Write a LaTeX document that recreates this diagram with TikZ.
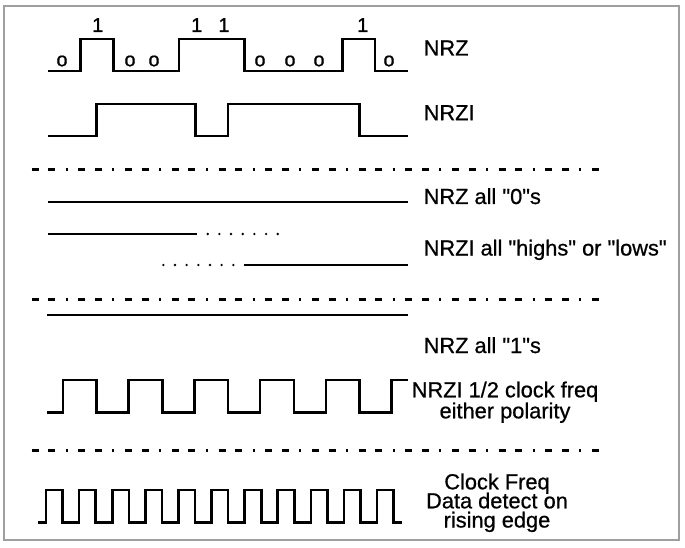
\documentclass[tikz,border=0pt]{standalone}
\usepackage{fontspec}
\setmainfont{Liberation Sans}[Ligatures=TeXOff, FakeBold=0.7]
\begin{document}
\begin{tikzpicture}[x=1pt,y=-1pt,
  wave/.style={line width=2.6pt, line join=miter, line cap=butt},
  dashdot/.style={line width=3pt, dash pattern=on 7pt off 9.6pt on 7pt off 10.4pt on 2pt off 10.7pt},
  lbl/.style={inner sep=0pt, anchor=base west, font=\fontsize{21.8}{22}\selectfont},
  ctr/.style={inner sep=0pt, anchor=base, text height=15pt, text depth=3.5pt, font=\fontsize{21.8}{22}\selectfont},
  bit/.style={inner sep=0pt, anchor=base, font=\fontsize{20}{20}\selectfont},
  dotmark/.style={fill=black, draw=none}]
\useasboundingbox (0,0) rectangle (685,548);
\draw[gray!75, line width=1.5pt] (4,6) rectangle (679,540);

% NRZ
\draw[wave] (48,71) -- (80.7,71) -- (80.7,39) -- (113.4,39) -- (113.4,71)
  -- (178.8,71) -- (178.8,39) -- (244.2,39) -- (244.2,71) -- (342.3,71)
  -- (342.3,39) -- (375,39) -- (375,71) -- (408,71);
\node[bit] (b0) at (62,66.3) {o};
\node[bit] (b1) at (97.7,32) {1};
\node[bit] (b2) at (130,66.3) {o};
\node[bit] (b3) at (154,66.3) {o};
\node[bit] (b4) at (196.7,32) {1};
\node[bit] (b5) at (224,32) {1};
\node[bit] (b6) at (260,66.3) {o};
\node[bit] (b7) at (290,66.3) {o};
\node[bit] (b8) at (319,66.3) {o};
\node[bit] (b9) at (362.7,32) {1};
\node[bit] (b10) at (389,66.3) {o};
\node[lbl] (nrz) at (423.5,55.5) {NRZ};

% NRZI
\draw[wave] (48,136) -- (96.7,136) -- (96.7,104) -- (195.7,104) -- (195.7,136)
  -- (228,136) -- (228,104) -- (359.3,104) -- (359.3,136) -- (408,136);
\node[lbl] (nrzi) at (423.5,120.2) {NRZI};

% separator 1
\draw[dashdot] (31.7,169.3) -- (599,169.3);

% all zeros
\draw[wave] (48,202) -- (408,202);
\node[lbl] (all0) at (423.5,204) {NRZ all "0"s};

% NRZI highs / lows
\draw[wave] (48,234) -- (196.7,234);
\foreach \k in {0,...,6} \fill[dotmark] ({207.7+11.67*\k},234) circle (1.3pt);
\foreach \k in {0,...,6} \fill[dotmark] ({163.3+11.67*\k},265) circle (1.3pt);
\draw[wave] (244,265) -- (408,265);
\node[lbl] (hilo) at (423.5,255.5) {NRZI all "highs" or "lows"};

% separator 2
\draw[dashdot] (31.7,299.3) -- (599,299.3);

% all ones
\draw[wave] (47,315) -- (408,315);
\node[lbl] (all1) at (423.5,353) {NRZ all "1"s};

% NRZI half clock
\draw[wave] (47,412.7) -- (63,412.7) -- (63,380) -- (96.7,380) -- (96.7,412.7)
  -- (128.7,412.7) -- (128.7,380) -- (162.4,380) -- (162.4,412.7)
  -- (194.4,412.7) -- (194.4,380) -- (228,380) -- (228,412.7)
  -- (260.1,412.7) -- (260.1,380) -- (293.8,380) -- (293.8,412.7)
  -- (325.8,412.7) -- (325.8,380) -- (359.5,380) -- (359.5,412.7)
  -- (391.5,412.7) -- (391.5,380) -- (408,380);
\node[ctr] (half1) at (505,397.3) {NRZI 1/2 clock freq};
\node[ctr] (half2) at (505,418.3) {either polarity};

% separator 3
\draw[dashdot] (31.7,450.5) -- (599,450.5);

% clock
\draw[wave] (38.3,522.7)
  \foreach \k in {0,...,10} { -- ({46+33.1*\k},522.7) -- ({46+33.1*\k},490)
    -- ({62.6+33.1*\k},490) -- ({62.6+33.1*\k},522.7) }
  -- (401.7,522.7);
\node[ctr] (clk1) at (497,489.3) {Clock Freq};
\node[ctr] (clk2) at (497,508.3) {Data detect on};
\node[ctr] (clk3) at (497,527.5) {rising edge};
\end{tikzpicture}
\end{document}
